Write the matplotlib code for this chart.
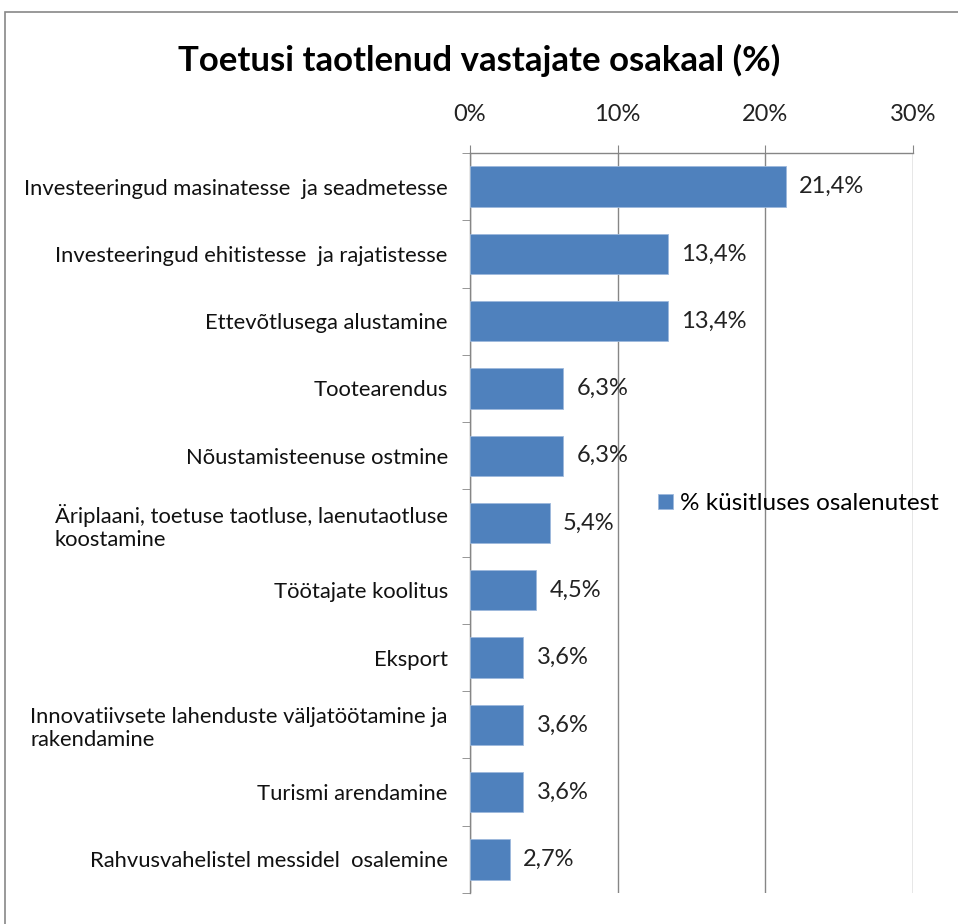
import matplotlib.pyplot as plt

# data
categories = [
    "Investeeringud masinatesse  ja seadmetesse",
    "Investeeringud ehitistesse  ja rajatistesse",
    "Ettevõtlusega alustamine",
    "Tootearendus",
    "Nõustamisteenuse ostmine",
    "Äriplaani, toetuse taotluse, laenutaotluse\nkoostamine",
    "Töötajate koolitus",
    "Eksport",
    "Innovatiivsete lahenduste väljatöötamine ja\nrakendamine",
    "Turismi arendamine",
    "Rahvusvahelistel messidel  osalemine",
]
values = [21.4, 13.4, 13.4, 6.3, 6.3, 5.4, 4.5, 3.6, 3.6, 3.6, 2.7]
x_ticks = [0, 10, 20, 30]
series_name = "% küsitluses osalenutest"
title = "Toetusi taotlenud vastajate osakaal (%)"

plt.rcParams['font.family'] = ['Lato', 'DejaVu Sans']
bar_color = '#4F81BD'
grid_color = '#868686'

fig = plt.figure(figsize=(9.58, 9.24), dpi=100)
ax = fig.add_axes([0.4906, 0.0335, 0.953 - 0.4906, 0.8344 - 0.0335])

y = list(range(len(categories)))
bars = ax.barh(y, values, height=0.6, color=bar_color, edgecolor='#9DB9DC',
               linewidth=0.6, label=series_name, zorder=3)

for yi, v in zip(y, values):
    ax.text(v + 0.9, yi, f"{v:.1f}%".replace('.', ','), va='center', ha='left',
            fontsize=17, color='#222222')

ax.set_ylim(len(categories) - 0.5, -0.5)
ax.set_xlim(0, 30)
ax.set_xticks(x_ticks)
ax.set_xticklabels([f"{t}%" for t in x_ticks], fontsize=17, color='#222222')
ax.xaxis.tick_top()
ax.tick_params(axis='x', direction='out', length=6, color=grid_color, pad=14)
ax.grid(axis='x', color=grid_color, linewidth=1, zorder=0)

ax.set_yticks(y)
ax.set_yticklabels(categories, fontsize=15.8, color='#111111', multialignment='left')
ax.tick_params(axis='y', length=0, pad=16)
# small tick marks between categories
ax.set_yticks([i - 0.5 for i in range(len(categories) + 1)], minor=True)
ax.tick_params(axis='y', which='minor', direction='out', length=6, color=grid_color)

for s in ['right', 'bottom']:
    ax.spines[s].set_visible(False)
for s in ['left', 'top']:
    ax.spines[s].set_color(grid_color)
    ax.spines[s].set_linewidth(1)

fig.text(0.5, 0.935, title, ha='center', va='center', fontsize=25, fontweight='bold')

fig.legend(loc='center left', bbox_to_anchor=(0.664, 0.455), frameon=False,
           fontsize=17.5, handlelength=0.6, handleheight=0.6, handletextpad=0.3)

# outer chart frame
fig.add_artist(plt.Rectangle((0.005, -0.01), 1.2, 0.997, transform=fig.transFigure,
                             fill=False, edgecolor='#888888', linewidth=1.2))

fig.savefig('out.png', dpi=100)
